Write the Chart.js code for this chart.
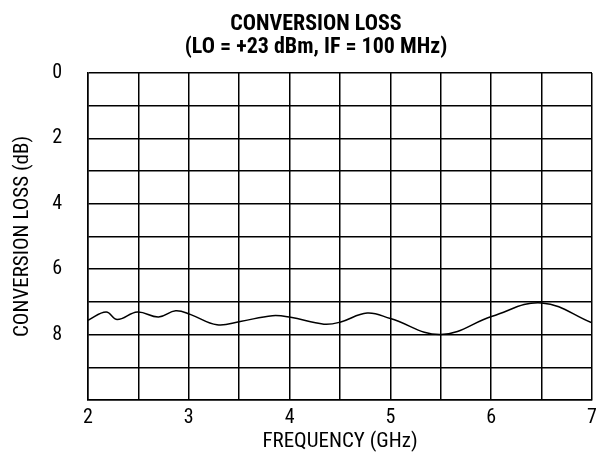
<!DOCTYPE html>
<html>
<head>
<meta charset="utf-8">
<script src="https://cdn.jsdelivr.net/npm/chart.js@4/dist/chart.umd.min.js"></script>
<style>
  body { margin: 0; background: #fff; }
</style>
</head>
<body>
<canvas id="myChart" width="597" height="453"></canvas>
<script>
var freqGHz = [2.0, 2.18, 2.29, 2.49, 2.70, 2.87, 3.02, 3.28, 3.51, 3.83, 4.01, 4.34, 4.50, 4.77, 5.0, 5.5, 6.01, 6.5, 7.0];
var lossDb  = [7.56, 7.31, 7.54, 7.31, 7.46, 7.27, 7.39, 7.70, 7.60, 7.42, 7.47, 7.68, 7.62, 7.34, 7.51, 8.0, 7.44, 7.03, 7.64];
var titleLines = ["CONVERSION LOSS", "(LO = +23 dBm, IF = 100 MHz)"];
var xTitle = "FREQUENCY (GHz)";
var yTitle = "CONVERSION LOSS (dB)";

var fontName = "'Roboto Condensed', 'Liberation Sans', sans-serif";

var points = [];
for (var i = 0; i < freqGHz.length; i++) {
  points.push({x: freqGHz[i], y: lossDb[i]});
}

// title sits a bit left of the plot centre in the original
var titlePlugin = {
  id: 'twoLineTitle',
  afterDraw: function(chart) {
    var ctx = chart.ctx;
    var cx = (chart.chartArea.left + chart.chartArea.right) / 2 - 24;
    ctx.save();
    ctx.fillStyle = '#000';
    ctx.font = 'bold 22px ' + fontName;
    ctx.textAlign = 'center';
    ctx.textBaseline = 'middle';
    ctx.fillText(titleLines[0], cx, 24);
    ctx.fillText(titleLines[1], cx, 47);
    ctx.restore();
  }
};

let ctx = document.getElementById("myChart").getContext("2d");
let myLineChart = new Chart(ctx, {
  type: 'line',
  data: {
    datasets: [{
      data: points,
      borderColor: '#000',
      borderWidth: 1.5,
      pointRadius: 0,
      tension: 0.4,
      fill: false
    }]
  },
  options: {
    responsive: false,
    animation: false,
    layout: { padding: { top: 73, right: 5, left: 10, bottom: 0 } },
    plugins: { legend: { display: false }, tooltip: { enabled: false } },
    scales: {
      x: {
        type: 'linear',
        min: 2, max: 7,
        afterFit: function(scale) {
          scale.height = 53;
          scale.paddingLeft = 0;
          scale.paddingRight = 0;
        },
        grid: { color: '#000', lineWidth: 1.5, drawTicks: false },
        border: { color: '#000', width: 1.5 },
        ticks: {
          stepSize: 0.5,
          padding: 6,
          color: '#000',
          font: { family: fontName, size: 20 },
          maxRotation: 0,
          autoSkip: false,
          callback: function(v) { return Number.isInteger(v) ? v : ''; }
        },
        title: { display: true, text: xTitle, color: '#000', font: { family: fontName, size: 21, lineHeight: 1.1 }, padding: { top: 0, bottom: 0 } }
      },
      y: {
        min: 0, max: 10,
        reverse: true,
        afterFit: function(scale) { scale.width = 78; },
        grid: { color: '#000', lineWidth: 1.5, drawTicks: false },
        border: { color: '#000', width: 1.5 },
        ticks: {
          stepSize: 1,
          padding: 26,
          color: '#000',
          font: { family: fontName, size: 20 },
          autoSkip: false,
          callback: function(v) { return (v % 2 === 0 && v < 10) ? v : ''; }
        },
        title: { display: true, text: yTitle, color: '#000', font: { family: fontName, size: 21 }, padding: { top: 0, bottom: 0 } }
      }
    }
  },
  plugins: [titlePlugin]
});
</script>
</body>
</html>
